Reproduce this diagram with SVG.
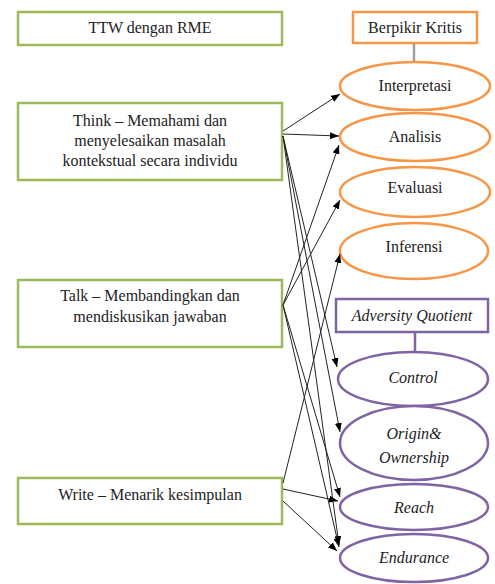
<svg xmlns="http://www.w3.org/2000/svg" width="495" height="584" viewBox="0 0 495 584">
<defs>
<marker id="arr" markerUnits="userSpaceOnUse" markerWidth="9" markerHeight="7" refX="9" refY="3.5" orient="auto">
<path d="M0,0 L9,3.5 L0,7 z" fill="#000"/>
</marker>
<style>
.g{fill:#fff;stroke:#9BBB59;stroke-width:2.5}
.o{fill:#fff;stroke:#F79646;stroke-width:2.5}
.p{fill:#fff;stroke:#8064A2;stroke-width:2.5}
.t{font-size:16px;fill:#222;text-anchor:middle}
.i{font-style:italic}
.c line{stroke:#222;stroke-width:1;marker-end:url(#arr)}
</style>
</defs>
<rect width="495" height="584" fill="#fff"/>
<g class="t" font-family="Liberation Serif, Times New Roman, serif">
<g id="ttw"><rect class="g" x="18" y="12" width="264" height="33"/><text x="150" y="33">TTW dengan RME</text></g>
<g id="think"><rect class="g" x="18" y="103" width="264" height="77"/><text x="150" y="126">Think – Memahami dan</text><text x="150" y="146">menyelesaikan masalah</text><text x="150" y="166">kontekstual secara individu</text></g>
<g id="talk"><rect class="g" x="18" y="280" width="264" height="67"/><text x="150" y="301">Talk – Membandingkan dan</text><text x="150" y="322">mendiskusikan jawaban</text></g>
<g id="write"><rect class="g" x="18" y="478" width="264" height="46"/><text x="150" y="500">Write – Menarik kesimpulan</text></g>
<g id="bk"><line x1="414" y1="43" x2="414" y2="62" stroke="#A0A0A0" stroke-width="2.5"/><rect class="o" x="353" y="12" width="124" height="31"/><text x="415" y="33">Berpikir Kritis</text></g>
<g id="interpretasi"><ellipse class="o" cx="415" cy="86" rx="75" ry="24"/><text x="415" y="91">Interpretasi</text></g>
<g id="analisis"><ellipse class="o" cx="415" cy="137" rx="75" ry="24"/><text x="415" y="142">Analisis</text></g>
<g id="evaluasi"><ellipse class="o" cx="415" cy="192" rx="75" ry="25"/><text x="415" y="193">Evaluasi</text></g>
<g id="inferensi"><ellipse class="o" cx="414" cy="251" rx="74" ry="28"/><text x="414" y="252">Inferensi</text></g>
<g id="aq"><line x1="415" y1="332" x2="415" y2="352" stroke="#8064A2" stroke-width="2.5"/><rect class="p" x="336" y="299" width="152" height="33"/><text class="i" x="412" y="321">Adversity Quotient</text></g>
<g id="control"><ellipse class="p" cx="413" cy="379" rx="75" ry="27"/><text class="i" x="413" y="383">Control</text></g>
<g id="origin"><ellipse class="p" cx="414" cy="443" rx="74" ry="37"/><text class="i" x="414" y="439">Origin&amp;</text><text class="i" x="414" y="463">Ownership</text></g>
<g id="reach"><ellipse class="p" cx="414" cy="507" rx="74" ry="23"/><text class="i" x="414" y="513">Reach</text></g>
<g id="endurance"><ellipse class="p" cx="414" cy="558" rx="74" ry="24"/><text class="i" x="414" y="563">Endurance</text></g>
</g>
<g id="connectors" class="c">
<line x1="283" y1="131" x2="340" y2="94"/>
<line x1="283" y1="134" x2="339" y2="136"/>
<line x1="283" y1="136" x2="337" y2="367"/>
<line x1="283" y1="136" x2="340" y2="432"/>
<line x1="283" y1="136" x2="339" y2="545"/>
<line x1="283" y1="305" x2="339" y2="145"/>
<line x1="283" y1="305" x2="340" y2="200"/>
<line x1="283" y1="305" x2="340" y2="497"/>
<line x1="283" y1="305" x2="339" y2="547"/>
<line x1="283" y1="483" x2="340" y2="254"/>
<line x1="283" y1="489" x2="338" y2="501"/>
<line x1="283" y1="501" x2="337" y2="551"/>
</g>
</svg>
